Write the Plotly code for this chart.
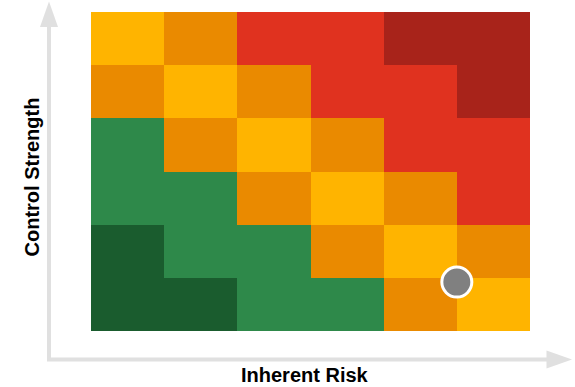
import plotly.graph_objects as go

# ---- data ----
risk_levels = [0, 1, 2, 3, 4, 5]          # inherent risk (x columns)
control_levels = [0, 1, 2, 3, 4, 5]       # control strength (y rows, bottom=0)
# rating codes: 0 dark green, 1 green, 2 yellow, 3 orange, 4 red, 5 dark red
# rows listed from bottom (control 0) to top (control 5)
rating = [
    [0, 0, 1, 1, 3, 2],
    [0, 1, 1, 3, 2, 3],
    [1, 1, 3, 2, 3, 4],
    [1, 3, 2, 3, 4, 4],
    [3, 2, 3, 4, 4, 5],
    [2, 3, 4, 4, 5, 5],
]
rating_colors = ["#1A5C2E", "#2E894A", "#FFB400", "#EA8A00", "#E0321F", "#A8231A"]
point_risk = [4.5]
point_control = [0.42]

W, H = 575, 387
L, R, T, B = 91, 45, 12, 56
pw, ph = W - L - R, H - T - B

def px(x):
    return (x - L) / pw

def py(y):
    return (H - B - y) / ph

n = len(rating_colors)
cs = []
for i, c in enumerate(rating_colors):
    cs.append([i / n, c])
    cs.append([(i + 1) / n, c])

fig = go.Figure()
fig.add_trace(go.Heatmap(
    x=risk_levels, y=control_levels, z=rating,
    colorscale=cs, zmin=-0.5, zmax=n - 0.5, showscale=False,
    hoverinfo="skip", xgap=0, ygap=0,
))
fig.add_trace(go.Scatter(
    x=point_risk, y=point_control, mode="markers",
    marker=dict(size=30, color="#808080", line=dict(color="white", width=3)),
    hoverinfo="skip", showlegend=False,
))

axis_color = "#E0E0E0"
shapes = [
    dict(type="path", xref="paper", yref="paper",
         path=f"M {px(49)},{py(26)} L {px(49)},{py(359.5)} L {px(547)},{py(359.5)}",
         line=dict(color=axis_color, width=4), fillcolor="rgba(0,0,0,0)", layer="below"),
    dict(type="path", xref="paper", yref="paper",
         path=f"M {px(40)},{py(27)} L {px(49)},{py(1.5)} L {px(58)},{py(27)} Z",
         line=dict(width=0), fillcolor=axis_color),
    dict(type="path", xref="paper", yref="paper",
         path=f"M {px(546.5)},{py(350.5)} L {px(572)},{py(359.5)} L {px(546.5)},{py(368.5)} Z",
         line=dict(width=0), fillcolor=axis_color),
]

font = dict(family="Liberation Sans, Arial, sans-serif", size=20, color="black")
annotations = [
    dict(text="<b>Inherent Risk</b>", xref="paper", yref="paper",
         x=px(304.5), y=py(375), xanchor="center", yanchor="middle",
         showarrow=False, font=font),
    dict(text="<b>Control Strength</b>", xref="paper", yref="paper",
         x=px(31), y=py(177.5), xanchor="center", yanchor="middle",
         textangle=-90, showarrow=False, font=font),
]

fig.update_layout(
    width=W, height=H,
    margin=dict(l=L, r=R, t=T, b=B, pad=0),
    paper_bgcolor="white", plot_bgcolor="white",
    xaxis=dict(range=[-0.5, 5.5], visible=False, fixedrange=True),
    yaxis=dict(range=[-0.5, 5.5], visible=False, fixedrange=True),
    shapes=shapes, annotations=annotations, showlegend=False,
)

fig.write_html("out.html", config={"displayModeBar": False})
